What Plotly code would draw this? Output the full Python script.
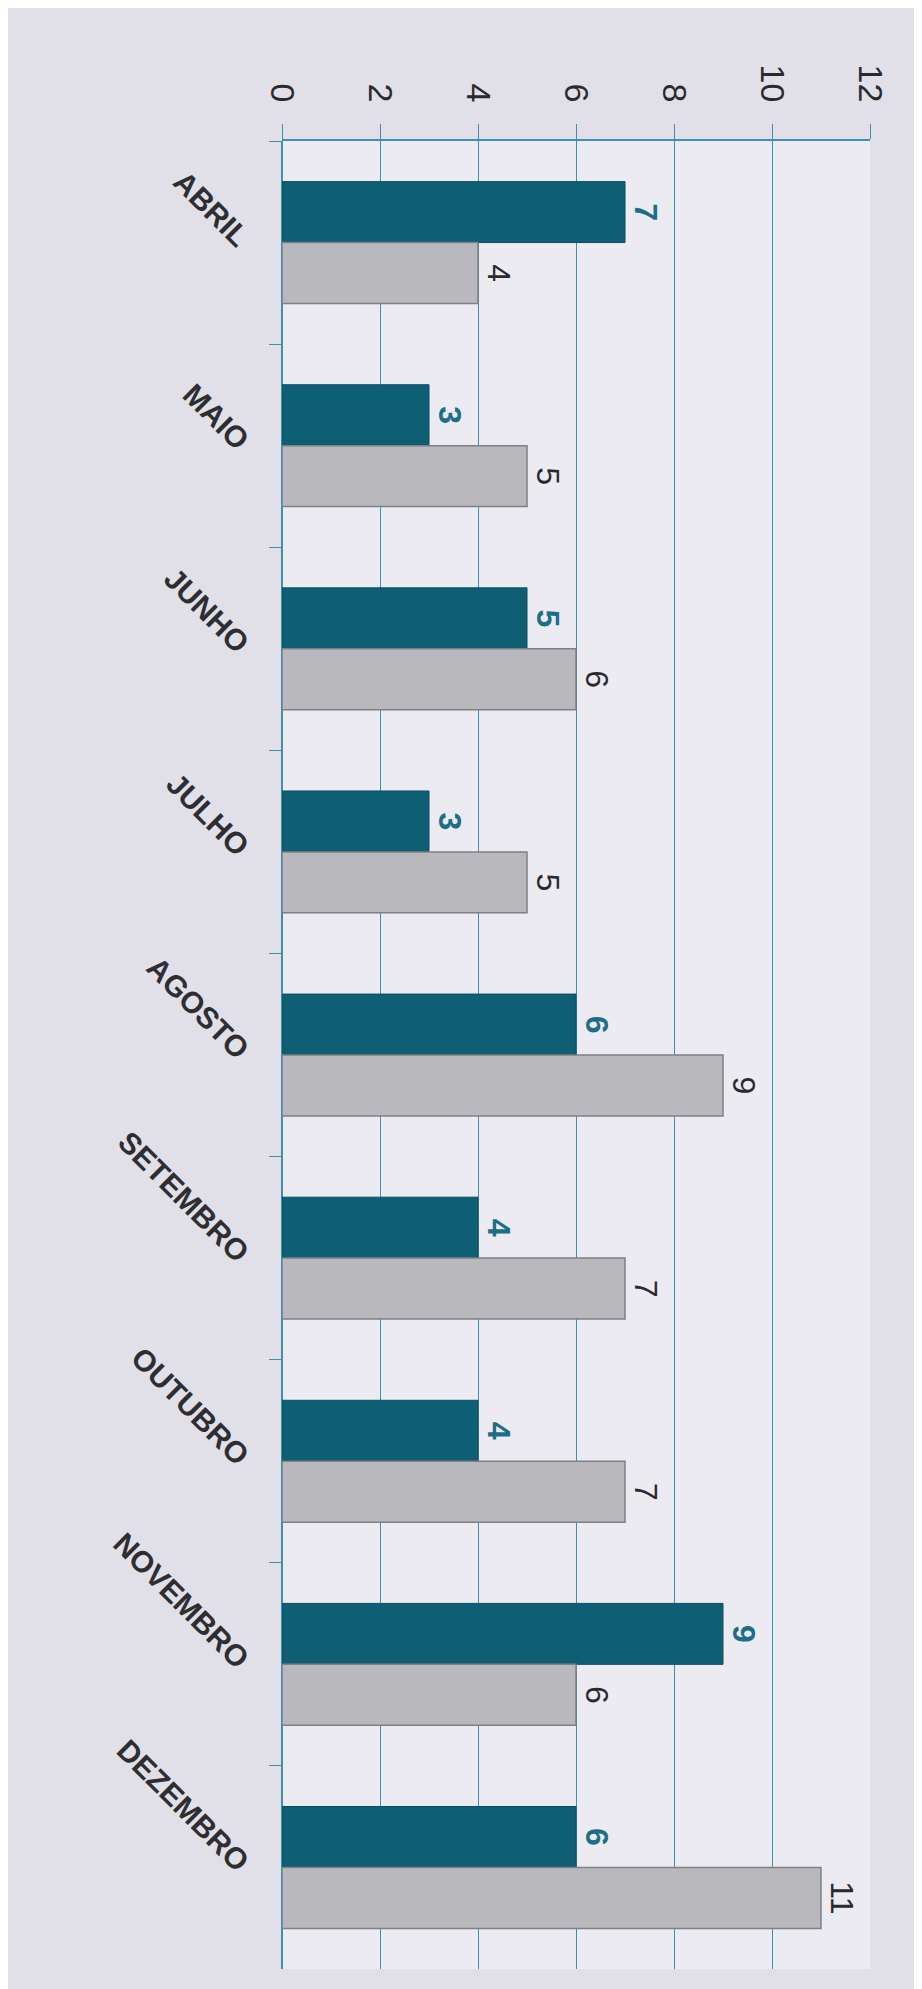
import plotly.graph_objects as go

months = ["ABRIL", "MAIO", "JUNHO", "JULHO", "AGOSTO", "SETEMBRO", "OUTUBRO", "NOVEMBRO", "DEZEMBRO"]
serie_teal = [7, 3, 5, 3, 6, 4, 4, 9, 6]
serie_gray = [4, 5, 6, 5, 9, 7, 7, 6, 11]
value_ticks = [0, 2, 4, 6, 8, 10, 12]

TEAL = "#0e5f74"
GRID = "#3f8fae"

fig = go.Figure()
fig.add_trace(go.Bar(
    y=months, x=serie_teal, orientation="h", name="A",
    marker=dict(color=TEAL, line=dict(color="#0b4f63", width=1)),
    text=serie_teal, textposition="outside", textangle=90, cliponaxis=False,
    textfont=dict(family="Liberation Sans", size=32, color="#1d6e88", weight="bold"),
))
fig.add_trace(go.Bar(
    y=months, x=serie_gray, orientation="h", name="B",
    marker=dict(color="#b9b8bd", line=dict(color="#7f7f86", width=1.5)),
    text=serie_gray, textposition="outside", textangle=90, cliponaxis=False,
    textfont=dict(family="Liberation Sans", size=32, color="#2a2a2e"),
))

fig.update_layout(
    width=922, height=1989,
    margin=dict(l=274, r=60, t=133, b=28),
    paper_bgcolor="#e1dfe8",
    plot_bgcolor="#ecebf2",
    barmode="group", bargap=0.4, bargroupgap=0.0,
    showlegend=False,
)
fig.update_xaxes(
    side="top", range=[0, 12], tickvals=value_ticks,
    tickangle=90, tickfont=dict(family="Liberation Sans", size=34, color="#2a2a2e"),
    showgrid=True, gridcolor=GRID, gridwidth=1.2,
    showline=True, linecolor=GRID, linewidth=1.5,
    ticks="outside", ticklen=15, tickcolor=GRID, ticklabelstandoff=10,
    zeroline=True, zerolinecolor=GRID, zerolinewidth=1.5,
)
fig.update_yaxes(
    categoryorder="array", categoryarray=months, autorange="reversed",
    tickangle=45, tickfont=dict(family="Liberation Sans", size=30, color="#2e2e32", weight="bold"),
    tickson="boundaries", ticks="outside", ticklen=12, tickcolor=GRID,
    showline=False, showgrid=False, ticklabelstandoff=34,
)

fig.write_html("out.html")
